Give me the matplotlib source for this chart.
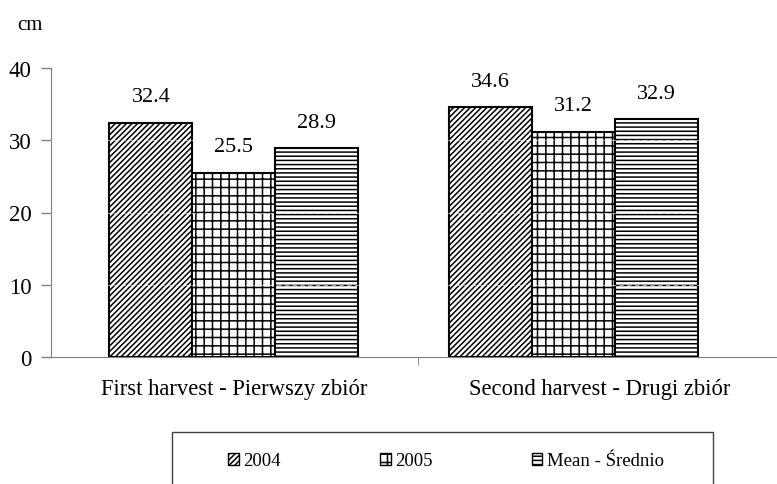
import numpy as np
import matplotlib.pyplot as plt
from matplotlib.patches import Patch, Rectangle

# Данные
groups = ['First harvest - Pierwszy zbiór', 'Second harvest - Drugi zbiór']
series = ['2004', '2005', 'Mean - Średnio']
v2004 = [32.4, 34.6]
v2005 = [25.5, 31.2]
vmean = [28.9, 32.9]
yticks = [0, 10, 20, 30, 40]

plt.rcParams['font.family'] = ['Liberation Serif', 'DejaVu Serif']
plt.rcParams['hatch.linewidth'] = 1.1

fig = plt.figure(figsize=(7.77, 4.85), dpi=100)
ax = fig.add_axes([51 / 777, 1 - 358 / 485, 1 - 51 / 777, (358 - 69) / 485])

x = np.arange(len(groups))
w = 0.2445
hatches = ['//////', '++', '----']
values = [v2004, v2005, vmean]

for i, (vals, h) in enumerate(zip(values, hatches)):
    bars = ax.bar(x + (i - 1) * w, vals, w, color='white', edgecolor='black',
                  linewidth=1.5, hatch=h, zorder=2)
    for b, v in zip(bars, vals):
        ax.text(b.get_x() + b.get_width() / 2, v + 3.6, f'{v:.1f}',
                ha='center', va='center', fontsize=16)

# сетка видна только внутри столбцов (белая пунктирная)
for yv in yticks[1:-1]:
    ax.axhline(yv, color='white', linestyle=(0, (4, 3)), linewidth=0.8, alpha=0.6, zorder=3)

ax.set_ylim(0, 40)
ax.set_xlim(-0.539, 1.6)
ax.set_yticks(yticks)
ax.tick_params(axis='y', labelsize=16.5, length=7, width=1, color='#808080', pad=7)

# подписи категорий
ax.set_xticks([0, 1.078])
ax.set_xticklabels(groups, fontsize=16.3)
ax.tick_params(axis='x', length=0, pad=15)
ax.set_xticks([0.542], minor=True)
ax.tick_params(axis='x', which='minor', length=6, color='#808080')

for s in ['top', 'right']:
    ax.spines[s].set_visible(False)
ax.spines['left'].set_color('#808080')
ax.spines['bottom'].set_color('#808080')

fig.text(30 / 777, 1 - 25 / 485, 'cm', ha='center', va='center', fontsize=15)

# Легенда
handles = [Patch(facecolor='white', edgecolor='black', hatch=h) for h in hatches]
fig.legend(handles, series, loc='center left', bbox_to_anchor=(219 / 777, 1 - 462 / 485),
           ncol=3, frameon=False, fontsize=13.5, handlelength=0.55, handleheight=0.55,
           handletextpad=0.25, columnspacing=5.3, borderpad=0)
fig.patches.append(Rectangle((172 / 777, -0.1), 541 / 777, 0.1 + (485 - 433) / 485,
                             transform=fig.transFigure, facecolor='none',
                             edgecolor='#404040', linewidth=1))

fig.savefig('out.png', dpi=100)
